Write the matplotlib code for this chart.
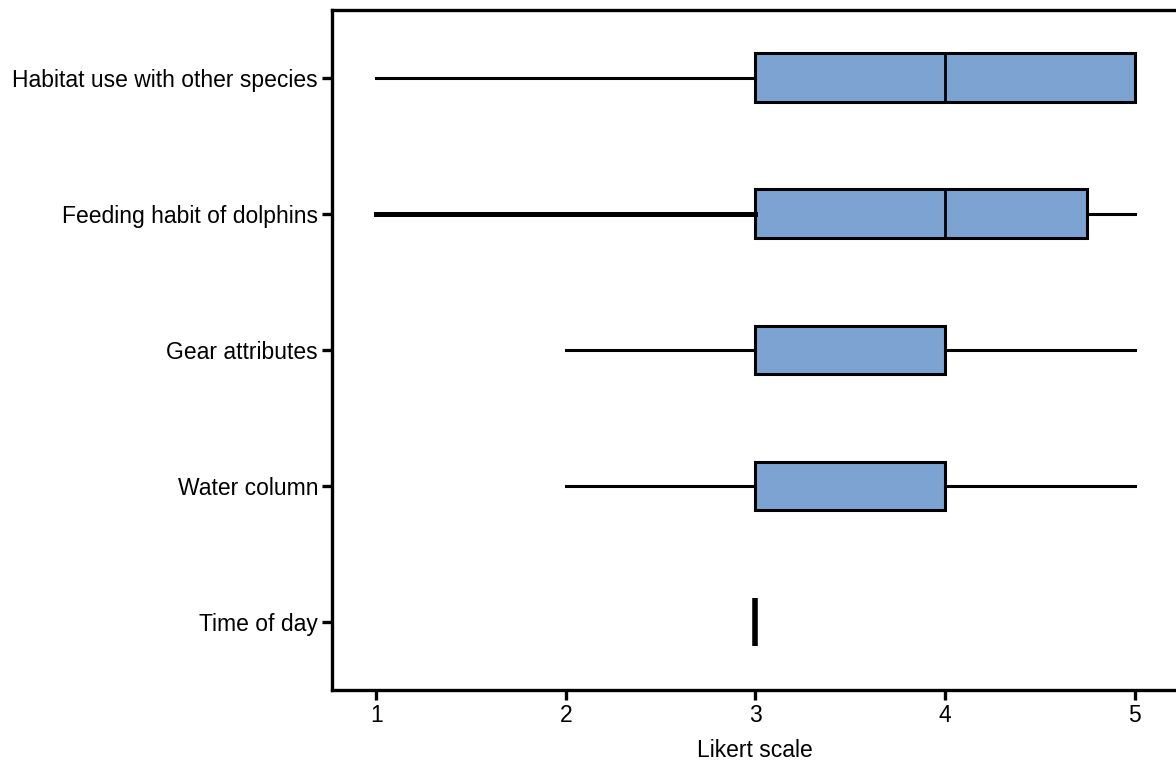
import matplotlib
matplotlib.use("Agg")
import matplotlib.pyplot as plt

plt.rcParams["font.family"] = ["Liberation Sans", "DejaVu Sans"]

# five-number summaries (Likert scale 1-5), bottom to top
categories = ["Time of day", "Water column", "Gear attributes",
              "Feeding habit of dolphins", "Habitat use with other species"]
whislo = [3, 2, 2, 1, 1]
q1 = [3, 3, 3, 3, 3]
med = [3, 3, 3, 4, 4]
q3 = [3, 4, 4, 4.75, 5]
whishi = [3, 5, 5, 5, 5]

box_color = "#7ca3d2"

stats = []
for i, name in enumerate(categories):
    stats.append({"label": name, "whislo": whislo[i], "q1": q1[i], "med": med[i],
                  "q3": q3[i], "whishi": whishi[i], "fliers": []})

fig = plt.figure(figsize=(11.76, 7.67), dpi=100)
ax = fig.add_axes([0.2823, 0.1004, 0.72, 0.8866])

positions = list(range(len(categories)))
bp = ax.bxp(stats, positions=positions, vert=False, widths=0.36,
            patch_artist=True, showcaps=False,
            boxprops=dict(facecolor=box_color, edgecolor="black", linewidth=2.2),
            medianprops=dict(color="black", linewidth=2.0),
            whiskerprops=dict(color="black", linewidth=2.2))

# "Time of day" collapses to a single value: draw it as a thick bar
bp["boxes"][0].set_visible(False)
bp["medians"][0].set_linewidth(4.0)
for w in bp["whiskers"][0:2]:
    w.set_visible(False)
# left whisker of feeding habit is drawn heavier in the original
bp["whiskers"][6].set_linewidth(3.6)

ax.set_xlim(0.767, 5.233)
ax.set_ylim(-0.5, 4.5)
ax.set_xticks([1, 2, 3, 4, 5])
ax.set_yticks(positions)
ax.set_yticklabels(categories)
ax.set_xlabel("Likert scale", fontsize=16.5, labelpad=9)

for s in ax.spines.values():
    s.set_linewidth(2.4)
ax.tick_params(axis="both", labelsize=16.5, width=2.4, length=7, pad=3)

fig.savefig("out.png", dpi=100)
